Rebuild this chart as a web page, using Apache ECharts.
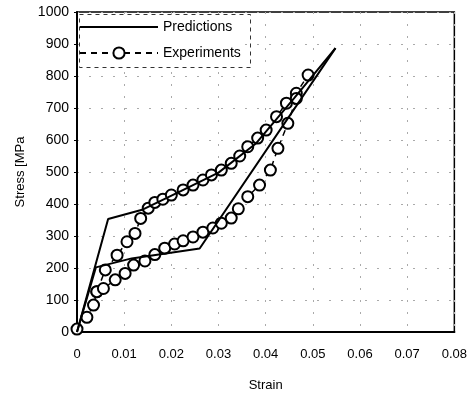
<!DOCTYPE html>
<html>
<head>
<meta charset="utf-8">
<script src="https://cdn.jsdelivr.net/npm/echarts@6/dist/echarts.min.js"></script>
<style>
html,body{margin:0;padding:0;background:#fff;}
#c{width:470px;height:398px;}
</style>
</head>
<body>
<div id="c"></div>
<script>
// Tick labels
const xTicks = ['0', '0.01', '0.02', '0.03', '0.04', '0.05', '0.06', '0.07', '0.08'];
const yTicks = [0, 100, 200, 300, 400, 500, 600, 700, 800, 900, 1000];

// Predictions (strain, stress MPa)
const predUpperStrain = [0, 0.0066, 0.014, 0.022, 0.030, 0.038, 0.046, 0.0548];
const predUpperStress = [0, 353, 383, 440, 498, 590, 730, 887];
const predLowerStrain = [0, 0.004, 0.0116, 0.026, 0.0548];
const predLowerStress = [0, 202, 230, 261, 887];

// Experiments (strain, stress MPa)
const expUpperStrain = [0, 0.0021, 0.0035, 0.0042, 0.006, 0.0085, 0.0106, 0.0123, 0.0135, 0.0151, 0.0165, 0.0182, 0.020, 0.0225, 0.0246, 0.0267, 0.0285, 0.0306, 0.0327, 0.0345, 0.0362, 0.0383, 0.0401, 0.0423, 0.0444, 0.0465, 0.049];
const expUpperStress = [9, 46, 84, 126, 194, 240, 282, 308, 355, 387, 405, 415, 428, 444, 459, 475, 491, 506, 527, 550, 579, 606, 631, 673, 715, 746, 803];
const expLowerStrain = [0.0042, 0.0056, 0.0081, 0.0102, 0.012, 0.0144, 0.0165, 0.0186, 0.0207, 0.0225, 0.0246, 0.0267, 0.0288, 0.0306, 0.0327, 0.0342, 0.0362, 0.0387, 0.041, 0.0426, 0.0447, 0.0465];
const expLowerStress = [126, 136, 163, 183, 209, 222, 242, 262, 275, 285, 297, 312, 325, 340, 356, 385, 423, 459, 506, 574, 652, 730];

const zip = (a, b) => a.map((v, i) => [v, b[i]]);

const FONT = 'Liberation Sans, Arial, sans-serif';
const chart = echarts.init(document.getElementById('c'), null, {renderer: 'canvas'});

const expStyle = {
  type: 'line',
  name: 'Experiments',
  symbol: 'emptyCircle',
  symbolSize: 11,
  showSymbol: true,
  itemStyle: {color: '#000', borderColor: '#000', borderWidth: 2},
  lineStyle: {color: '#000', width: 1.5, type: [6, 5]},
  animation: false,
  z: 2
};
const predStyle = {
  type: 'line',
  name: 'Predictions',
  showSymbol: false,
  symbol: 'none',
  lineStyle: {color: '#000', width: 2},
  itemStyle: {color: '#000'},
  animation: false,
  z: 3
};

chart.setOption({
  backgroundColor: '#fff',
  animation: false,
  grid: {left: 77, right: 14, top: 12, bottom: 66, show: true, borderColor: '#000', borderWidth: 1.5},
  xAxis: {
    type: 'value', min: 0, max: 0.08, interval: 0.01,
    name: 'Strain', nameLocation: 'middle', nameGap: 47,
    nameTextStyle: {color: '#000', fontFamily: FONT, fontSize: 13},
    axisLine: {show: true, onZero: false, lineStyle: {color: '#000', width: 2}},
    axisTick: {show: false},
    axisLabel: {color: '#000', fontFamily: FONT, fontSize: 13, margin: 16,
      formatter: v => xTicks[Math.round(v * 100)]},
    splitLine: {show: true, lineStyle: {color: '#aaa', width: 1, type: [2, 10]}}
  },
  yAxis: {
    type: 'value', min: 0, max: 1000, interval: 100,
    name: 'Stress [MPa', nameLocation: 'middle', nameGap: 48,
    nameTextStyle: {color: '#000', fontFamily: FONT, fontSize: 13},
    axisLine: {show: true, onZero: false, lineStyle: {color: '#000', width: 2}},
    axisTick: {show: true, length: 3, lineStyle: {color: '#000'}},
    axisLabel: {color: '#000', fontFamily: FONT, fontSize: 14, margin: 8,
      formatter: v => String(yTicks[Math.round(v / 100)])},
    splitLine: {show: true, lineStyle: {color: '#aaa', width: 1, type: [2, 10]}}
  },
  legend: {
    data: [
      {name: 'Predictions', icon: 'path://M0,0 L78,0 L78,2 L0,2 Z', itemStyle: {color: '#000', borderWidth: 0}},
      {name: 'Experiments'}
    ],
    orient: 'vertical', left: 79, top: 17,
    itemWidth: 78, itemHeight: 14, itemGap: 12,
    backgroundColor: '#fff', padding: [3, 4, 4, 0],
    textStyle: {color: '#000', fontFamily: FONT, fontSize: 14},
    z: 6
  },
  graphic: [{
    type: 'rect', left: 77, top: 12, z: 7,
    shape: {width: 171, height: 53},
    style: {fill: 'none', stroke: '#333', lineWidth: 1, lineDash: [4, 4]}
  }],
  series: [
    Object.assign({}, expStyle, {data: zip(expUpperStrain, expUpperStress)}),
    Object.assign({}, expStyle, {data: zip(expLowerStrain, expLowerStress)}),
    Object.assign({}, predStyle, {data: zip(predUpperStrain, predUpperStress)}),
    Object.assign({}, predStyle, {data: zip(predLowerStrain, predLowerStress)})
  ]
});
</script>
</body>
</html>
